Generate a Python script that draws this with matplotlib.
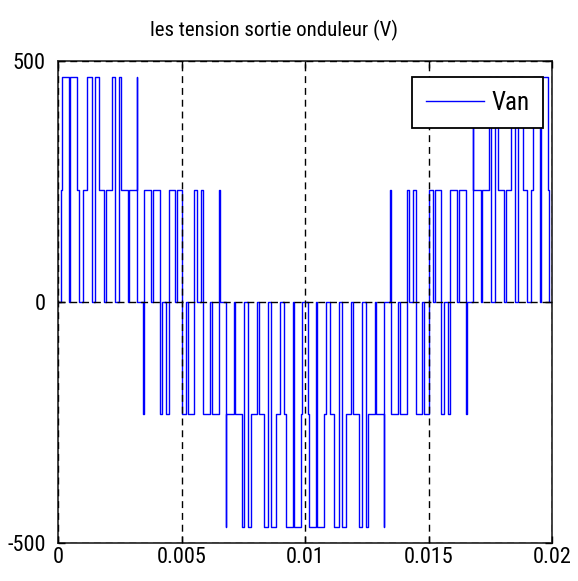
import numpy as np
import matplotlib
matplotlib.use("Agg")
import matplotlib.pyplot as plt

# Van step waveform: switching instants (ms) and the level
# reached at each instant, in multiples of Vdc/3 (Vdc = 700 V)
t_first_half = [0.000, 0.117, 0.145, 0.451, 0.505, 0.777, 0.860, 1.023, 1.158, 1.390,
                1.481, 1.666, 1.852, 1.943, 2.174, 2.310, 2.473, 2.555, 2.828, 2.881,
                3.187, 3.215, 3.450, 3.478, 3.784, 3.838, 4.110, 4.192, 4.356, 4.491,
                4.723, 4.814, 5.000, 5.186, 5.277, 5.509, 5.644, 5.808, 5.890, 6.162,
                6.216, 6.522, 6.550, 6.785, 6.813, 7.119, 7.172, 7.445, 7.527, 7.690,
                7.826, 8.057, 8.148, 8.334, 8.519, 8.610, 8.842, 8.977, 9.140, 9.223,
                9.495, 9.549, 9.855, 9.883]
lvl_first_half = [0, 1, 2, 0, 2, 1, 0, 1, 2, 0,
                  2, 1, 0, 1, 2, 0, 2, 1, 0, 1,
                  2, 0, -1, 1, 0, 1, -1, 0, -1, 1,
                  0, 1, -1, 0, -1, 1, 0, 1, -1, 0,
                  -1, 1, 0, -2, -1, 0, -1, -2, 0, -2,
                  -1, 0, -1, -2, 0, -2, -1, 0, -1, -2,
                  0, -2, -1, 0]

t_second_half = [10.117, 10.145, 10.451, 10.505, 10.777, 10.860, 11.023, 11.158, 11.390,
                 11.481, 11.666, 11.852, 11.943, 12.174, 12.310, 12.473, 12.555, 12.828, 12.881,
                 13.187, 13.215, 13.450, 13.478, 13.784, 13.838, 14.110, 14.192, 14.356, 14.491,
                 14.723, 14.814, 15.000, 15.186, 15.277, 15.509, 15.644, 15.808, 15.890, 16.162,
                 16.216, 16.522, 16.550, 16.785, 16.813, 17.119, 17.172, 17.445, 17.527, 17.690,
                 17.826, 18.057, 18.148, 18.334, 18.519, 18.610, 18.842, 18.977, 19.140, 19.223,
                 19.495, 19.549, 19.855, 19.883]
lvl_second_half = [-1, -2, 0, -2, -1, 0, -1, -2, 0,
                   -2, -1, 0, -1, -2, 0, -2, -1, 0, -1,
                   -2, 0, 1, -1, 0, -1, 1, 0, 1, -1,
                   0, -1, 1, 0, 1, -1, 0, -1, 1, 0,
                   1, -1, 0, 2, 1, 0, 1, 2, 0, 2,
                   1, 0, 1, 2, 0, 2, 1, 0, 1, 2,
                   0, 2, 1, 0]

vdc = 700.0

title_txt = "les tension sortie onduleur (V)"
legend_txt = "Van"
x_ticks = [0, 0.005, 0.01, 0.015, 0.02]
x_labels = ["0", "0.005", "0.01", "0.015", "0.02"]
y_ticks = [-500, 0, 500]
y_labels = ["-500", "0", "500"]

plt.rcParams['font.family'] = ['Roboto Condensed', 'DejaVu Sans']
plt.rcParams['font.stretch'] = 'condensed'

fig = plt.figure(figsize=(5.78, 5.81), dpi=100)
ax = fig.add_axes([58 / 578, 1 - 543 / 581, 494 / 578, 482 / 581])

# build the step signal
t = np.array(t_first_half + t_second_half + [20.0]) / 1000.0
lv = lvl_first_half + lvl_second_half
v = np.array(lv + [lv[-1]]) * vdc / 3.0
ax.plot(t, v, color='#0000ff', lw=1.0, drawstyle='steps-post', label=legend_txt)

ax.set_xlim(0, 0.02)
ax.set_ylim(-500, 500)
ax.set_xticks(x_ticks)
ax.set_xticklabels(x_labels)
ax.set_yticks(y_ticks)
ax.set_yticklabels(y_labels)
ax.tick_params(direction='in', length=5, width=1, labelsize=16, top=True, right=True,
               colors='black')
ax.tick_params(axis='x', pad=3)
ax.tick_params(axis='y', pad=9)
ax.set_axisbelow(False)
ax.grid(True, color='black', linestyle=(0, (5, 3.5)), linewidth=1.0)
for s in ax.spines.values():
    s.set_linewidth(1.3)
    s.set_color('#333333')

fig.text(274 / 578, 1 - 30 / 581, title_txt, ha='center', va='center', fontsize=15)

leg = ax.legend(loc='upper right', bbox_to_anchor=(0.982, 0.967), fontsize=18,
                frameon=True, fancybox=False, framealpha=1.0,
                handlelength=2.3, borderaxespad=0.0, borderpad=0.55, handletextpad=0.3)
leg.get_frame().set_edgecolor('black')
leg.get_frame().set_linewidth(1.3)

fig.savefig("out.png", dpi=100)
